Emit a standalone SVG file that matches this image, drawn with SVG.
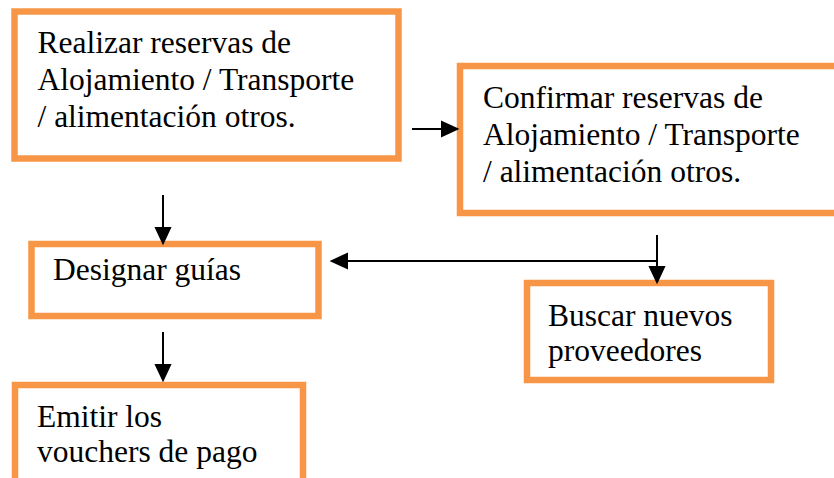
<svg xmlns="http://www.w3.org/2000/svg" width="834" height="478" viewBox="0 0 834 478">
<defs>
<path id="ah" d="M0,0 L-15,-7 L-15,7 Z" fill="#000"/>
</defs>
<rect width="834" height="478" fill="#fff"/>
<g id="n1">
<rect x="14.5" y="11.5" width="384" height="147" fill="#fff" stroke="#F79646" stroke-width="6.5"/>
<text x="37.5" y="53" font-family="Liberation Serif" font-size="31.5">Realizar reservas de</text>
<text x="37.5" y="90" font-family="Liberation Serif" font-size="31.5">Alojamiento / Transporte</text>
<text x="37.5" y="127" font-family="Liberation Serif" font-size="31.5">/ alimentación otros.</text>
</g>
<g id="n2">
<rect x="460" y="66" width="390" height="147" fill="#fff" stroke="#F79646" stroke-width="6.5"/>
<text x="483" y="108" font-family="Liberation Serif" font-size="31.5">Confirmar reservas de</text>
<text x="483" y="145" font-family="Liberation Serif" font-size="31.5">Alojamiento / Transporte</text>
<text x="483" y="182" font-family="Liberation Serif" font-size="31.5">/ alimentación otros.</text>
</g>
<g id="n3">
<rect x="31.5" y="244" width="287" height="72" fill="#fff" stroke="#F79646" stroke-width="6.5"/>
<text x="53" y="280" font-family="Liberation Serif" font-size="31.5">Designar guías</text>
</g>
<g id="n4">
<rect x="527" y="283" width="244" height="97" fill="#fff" stroke="#F79646" stroke-width="6.5"/>
<text x="548" y="326" font-family="Liberation Serif" font-size="31.5">Buscar nuevos</text>
<text x="548" y="361" font-family="Liberation Serif" font-size="31.5">proveedores</text>
</g>
<g id="n5">
<rect x="15" y="385" width="288" height="120" fill="#fff" stroke="#F79646" stroke-width="6.5"/>
<text x="37" y="427" font-family="Liberation Serif" font-size="31.5">Emitir los</text>
<text x="37" y="462" font-family="Liberation Serif" font-size="31.5">vouchers de pago</text>
</g>
<g id="connectors" stroke="#000" stroke-width="2" fill="none">
<line x1="412" y1="129" x2="444" y2="129"/>
<use href="#ah" transform="translate(457,129)"/>
<line x1="163" y1="195" x2="163" y2="230"/>
<use href="#ah" transform="translate(163,243) rotate(90)"/>
<line x1="657" y1="235" x2="657" y2="269"/>
<use href="#ah" transform="translate(657,282) rotate(90)"/>
<line x1="657" y1="261" x2="346" y2="261"/>
<use href="#ah" transform="translate(332,261) rotate(180)"/>
<line x1="163" y1="332" x2="163" y2="367"/>
<use href="#ah" transform="translate(163,380) rotate(90)"/>
</g>
</svg>
